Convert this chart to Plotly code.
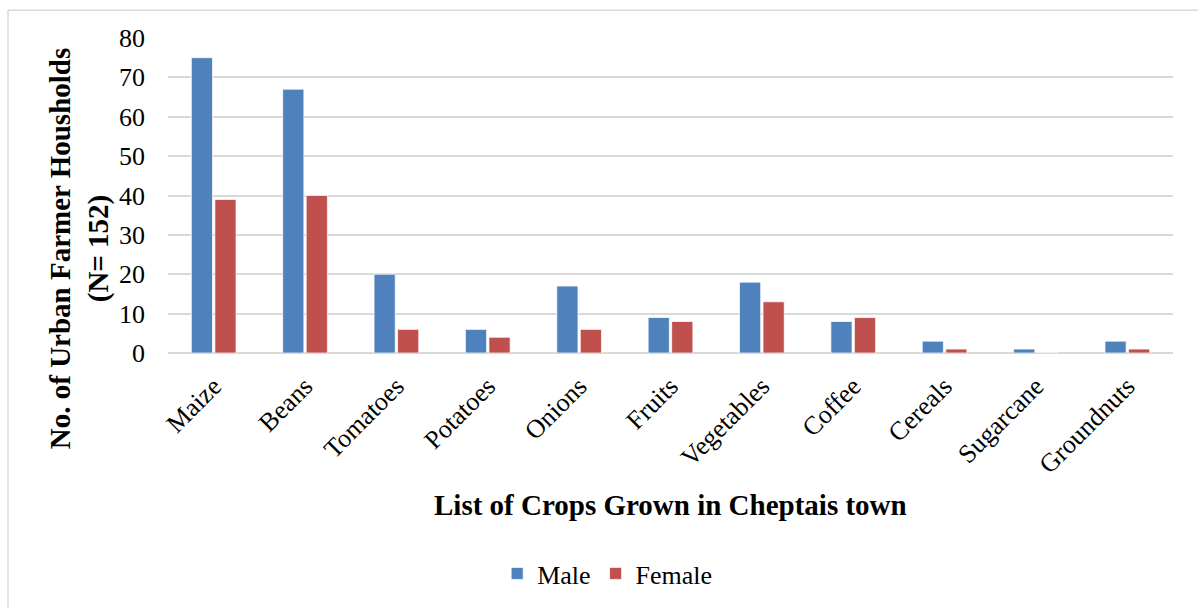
import plotly.graph_objects as go

crops = ["Maize", "Beans", "Tomatoes", "Potatoes", "Onions", "Fruits",
         "Vegetables", "Coffee", "Cereals", "Sugarcane", "Groundnuts"]
male = [75, 67, 20, 6, 17, 9, 18, 8, 3, 1, 3]
female = [39, 40, 6, 4, 6, 8, 13, 9, 1, 0, 1]
y_ticks = [0, 10, 20, 30, 40, 50, 60, 70, 80]

FONT = "Liberation Serif, Times New Roman, serif"

fig = go.Figure()
fig.add_trace(go.Bar(name="Male", x=crops, y=male,
                     marker=dict(color="#4F81BD", line=dict(color="rgba(255,255,255,0.7)", width=1))))
fig.add_trace(go.Bar(name="Female", x=crops, y=female,
                     marker=dict(color="#C0504D", line=dict(color="rgba(255,255,255,0.7)", width=1))))

fig.update_layout(
    width=1198, height=609,
    margin=dict(l=168, r=25, t=38, b=253),
    paper_bgcolor="white", plot_bgcolor="white",
    barmode="group", bargap=0.485, bargroupgap=0.1,
    font=dict(family=FONT, size=24, color="black"),
    showlegend=True,
    legend=dict(orientation="h", x=0.437, xanchor="center", y=-0.70, yanchor="middle",
                font=dict(family=FONT, size=26), itemwidth=30, traceorder="normal"),
    xaxis=dict(tickangle=-45, tickfont=dict(family=FONT, size=26), showgrid=False,
               showline=False, ticks="", ticklen=0, ticklabelstandoff=12),
    yaxis=dict(range=[0, 80], tickvals=y_ticks, showgrid=True, gridcolor="#d9d9d9",
               gridwidth=1.5, zeroline=True, zerolinecolor="#d9d9d9", zerolinewidth=1.5,
               showline=False, ticks="", tickfont=dict(family=FONT, size=26), ticklabelstandoff=22),
)

fig.add_annotation(text="<b>No. of Urban Farmer Housholds<br>(N= 152)</b>",
                   xref="paper", yref="paper", x=-0.088, y=(355 - 250) / 317,
                   xanchor="center", yanchor="middle", textangle=-90, showarrow=False,
                   font=dict(family=FONT, size=29), align="center")
fig.add_annotation(text="<b>List of Crops Grown in Cheptais town</b>",
                   xref="paper", yref="paper", x=0.5, y=(355 - 508) / 317,
                   xanchor="center", yanchor="middle", showarrow=False,
                   font=dict(family=FONT, size=29))

# outer chart border (top and left visible)
fig.add_shape(type="line", xref="paper", yref="paper",
              x0=(8 - 168) / 1005, x1=(1198 - 168) / 1005, y0=(355 - 10) / 317, y1=(355 - 10) / 317,
              line=dict(color="#d9d9d9", width=1.5))
fig.add_shape(type="line", xref="paper", yref="paper",
              x0=(8 - 168) / 1005, x1=(8 - 168) / 1005, y0=(355 - 10) / 317, y1=(355 - 612) / 317,
              line=dict(color="#d9d9d9", width=1.5))

fig.write_html("out.html")
